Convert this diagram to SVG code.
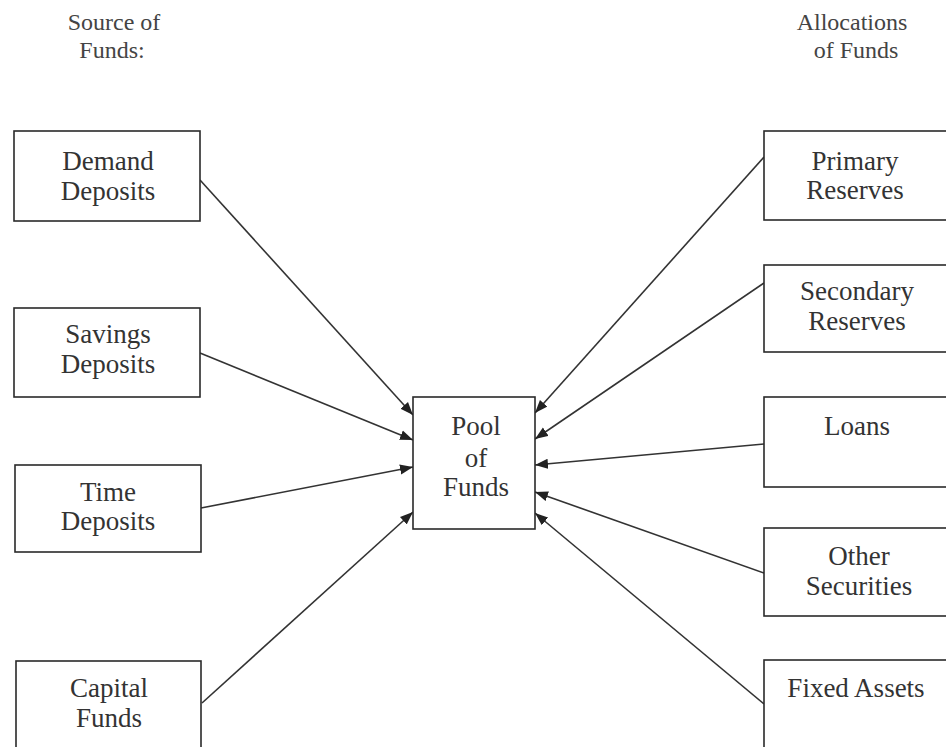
<svg xmlns="http://www.w3.org/2000/svg" width="946" height="747" viewBox="0 0 946 747">
  <style>
    .box { fill: #ffffff; stroke: #2a2a2a; stroke-width: 1.6; }
    .lbl { font-family: "Liberation Serif", "Times New Roman", serif; font-size: 27px; fill: #333333; text-anchor: middle; }
    .hdr { font-family: "Liberation Serif", "Times New Roman", serif; font-size: 24px; fill: #444444; text-anchor: middle; }
    .link { stroke: #333333; stroke-width: 1.6; fill: none; marker-end: url(#arrow); }
  </style>
  <defs>
    <marker id="arrow" markerUnits="userSpaceOnUse" markerWidth="14" markerHeight="11" refX="13" refY="5.5" orient="auto">
      <path d="M0,0.5 L13,5.5 L0,10.5 Z" fill="#222222"/>
    </marker>
  </defs>
  <rect width="946" height="747" fill="#ffffff"/>

  <!-- column headings -->
  <g id="heading-sources">
    <text class="hdr" x="114" y="30">Source of</text>
    <text class="hdr" x="112" y="58">Funds:</text>
  </g>
  <g id="heading-allocations">
    <text class="hdr" x="852" y="30">Allocations</text>
    <text class="hdr" x="856" y="58">of Funds</text>
  </g>

  <!-- connectors: sources and allocations all point into the pool -->
  <g id="connectors">
    <line class="link" x1="200" y1="180" x2="413" y2="415"/>
    <line class="link" x1="200" y1="353" x2="413" y2="440"/>
    <line class="link" x1="201" y1="508" x2="413" y2="467"/>
    <line class="link" x1="202" y1="703" x2="413" y2="512"/>
    <line class="link" x1="764" y1="157" x2="535" y2="413"/>
    <line class="link" x1="764" y1="283" x2="535" y2="439"/>
    <line class="link" x1="764" y1="444" x2="535" y2="465"/>
    <line class="link" x1="764" y1="573" x2="535" y2="492"/>
    <line class="link" x1="764" y1="704" x2="535" y2="513"/>
  </g>

  <!-- sources of funds -->
  <g id="demand-deposits">
    <rect class="box" x="14" y="131" width="186" height="90"/>
    <text class="lbl" x="108" y="170">Demand</text>
    <text class="lbl" x="108" y="200">Deposits</text>
  </g>
  <g id="savings-deposits">
    <rect class="box" x="14" y="308" width="186" height="89"/>
    <text class="lbl" x="108" y="343">Savings</text>
    <text class="lbl" x="108" y="373">Deposits</text>
  </g>
  <g id="time-deposits">
    <rect class="box" x="15" y="465" width="186" height="87"/>
    <text class="lbl" x="108" y="501">Time</text>
    <text class="lbl" x="108" y="530">Deposits</text>
  </g>
  <g id="capital-funds">
    <rect class="box" x="16" y="661" width="185" height="95"/>
    <text class="lbl" x="109" y="697">Capital</text>
    <text class="lbl" x="109" y="727">Funds</text>
  </g>

  <!-- central pool -->
  <g id="pool-of-funds">
    <rect class="box" x="413" y="397" width="122" height="132"/>
    <text class="lbl" x="476" y="435">Pool</text>
    <text class="lbl" x="476" y="467">of</text>
    <text class="lbl" x="476" y="496">Funds</text>
  </g>

  <!-- allocations of funds -->
  <g id="primary-reserves">
    <rect class="box" x="764" y="131" width="184" height="89"/>
    <text class="lbl" x="855" y="170">Primary</text>
    <text class="lbl" x="855" y="199">Reserves</text>
  </g>
  <g id="secondary-reserves">
    <rect class="box" x="764" y="265" width="184" height="87"/>
    <text class="lbl" x="857" y="300">Secondary</text>
    <text class="lbl" x="857" y="330">Reserves</text>
  </g>
  <g id="loans">
    <rect class="box" x="764" y="397" width="184" height="90"/>
    <text class="lbl" x="857" y="435">Loans</text>
  </g>
  <g id="other-securities">
    <rect class="box" x="764" y="528" width="184" height="88"/>
    <text class="lbl" x="859" y="565">Other</text>
    <text class="lbl" x="859" y="595">Securities</text>
  </g>
  <g id="fixed-assets">
    <rect class="box" x="764" y="660" width="184" height="96"/>
    <text class="lbl" x="856" y="697">Fixed Assets</text>
  </g>
</svg>
